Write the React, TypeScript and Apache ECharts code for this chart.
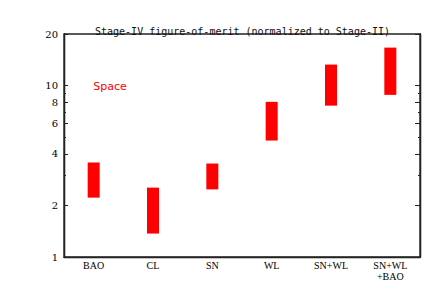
import React, { useEffect, useRef } from "react";
import * as echarts from "echarts";

const categories = ["BAO", "CL", "SN", "WL", "SN+WL", "SN+WL\n+BAO"];
const lowValues = [2.22, 1.37, 2.48, 4.78, 7.64, 8.83];
const highValues = [3.56, 2.54, 3.51, 8.04, 13.26, 16.66];
const majorTicks = [1, 2, 4, 6, 8, 10, 20];
const minorTicks = [3, 5, 7, 9];
const yMin = 1;
const yMax = 20;
const titleText = "Stage-IV figure-of-merit (normalized to Stage-II)";
const annotationText = "Space";

const AXIS_COLOR = "#222";

export default function App() {
  const ref = useRef<HTMLDivElement>(null);
  useEffect(() => {
    if (!ref.current) return;
    const chart = echarts.init(ref.current, undefined, { renderer: "svg" });
    const lmin = Math.log10(yMin);
    const lmax = Math.log10(yMax);
    const major = majorTicks.map((v) => Math.log10(v));
    const minor = minorTicks.map((v) => Math.log10(v));
    const mkY = (pos: "left" | "right", ticks: number[], len: number, labels: boolean) => ({
      type: "value",
      position: pos,
      min: lmin,
      max: lmax,
      splitLine: { show: false },
      axisLine: { show: true, lineStyle: { color: AXIS_COLOR, width: 1.3 } },
      axisTick: {
        show: true,
        inside: true,
        length: len,
        customValues: ticks,
        lineStyle: { color: AXIS_COLOR, width: 1 },
      },
      axisLabel: labels
        ? {
            show: true,
            customValues: major,
            margin: 6,
            color: "#000",
            fontFamily: "DejaVu Serif",
            fontSize: 10,
            formatter: (v: number) => String(Math.round(Math.pow(10, v))),
          }
        : { show: false },
    });
    chart.setOption({
      animation: false,
      backgroundColor: "#fff",
      title: {
        text: titleText,
        left: 90,
        top: 21,
        textStyle: {
          fontFamily: "DejaVu Sans Mono",
          fontSize: 10,
          fontWeight: "normal",
          color: "#111",
        },
      },
      grid: {
        left: 64,
        right: 23,
        top: 34,
        bottom: 38,
        show: true,
        borderColor: AXIS_COLOR,
        borderWidth: 1.3,
      },
      xAxis: {
        type: "category",
        data: categories,
        axisTick: { show: false },
        axisLine: { show: true, lineStyle: { color: AXIS_COLOR, width: 1.3 } },
        axisLabel: {
          interval: 0,
          margin: 3,
          color: "#000",
          fontFamily: "Liberation Serif",
          fontSize: 10,
          lineHeight: 11,
        },
      },
      yAxis: [
        mkY("left", major, 4, true),
        mkY("left", minor, 2, false),
        mkY("right", major, 5, false),
        mkY("right", minor, 2, false),
      ],
      series: [
        {
          type: "bar",
          stack: "range",
          yAxisIndex: 0,
          barWidth: 12,
          silent: true,
          itemStyle: { color: "transparent" },
          data: lowValues.map((v) => Math.log10(v)),
        },
        {
          type: "bar",
          stack: "range",
          yAxisIndex: 0,
          barWidth: 12,
          itemStyle: { color: "#ff0000" },
          data: highValues.map((v, i) => Math.log10(v) - Math.log10(lowValues[i])),
        },
      ],
      graphic: [
        {
          type: "text",
          x: 110,
          y: 86,
          style: {
            text: annotationText,
            fill: "#ff0000",
            font: "11px DejaVu Sans",
            textAlign: "center",
            textVerticalAlign: "middle",
          },
        },
      ],
    });
    return () => chart.dispose();
  }, []);
  return (
    <div
      ref={ref}
      style={{ position: "fixed", left: 0, top: 0, width: 443, height: 295 }}
    />
  );
}
